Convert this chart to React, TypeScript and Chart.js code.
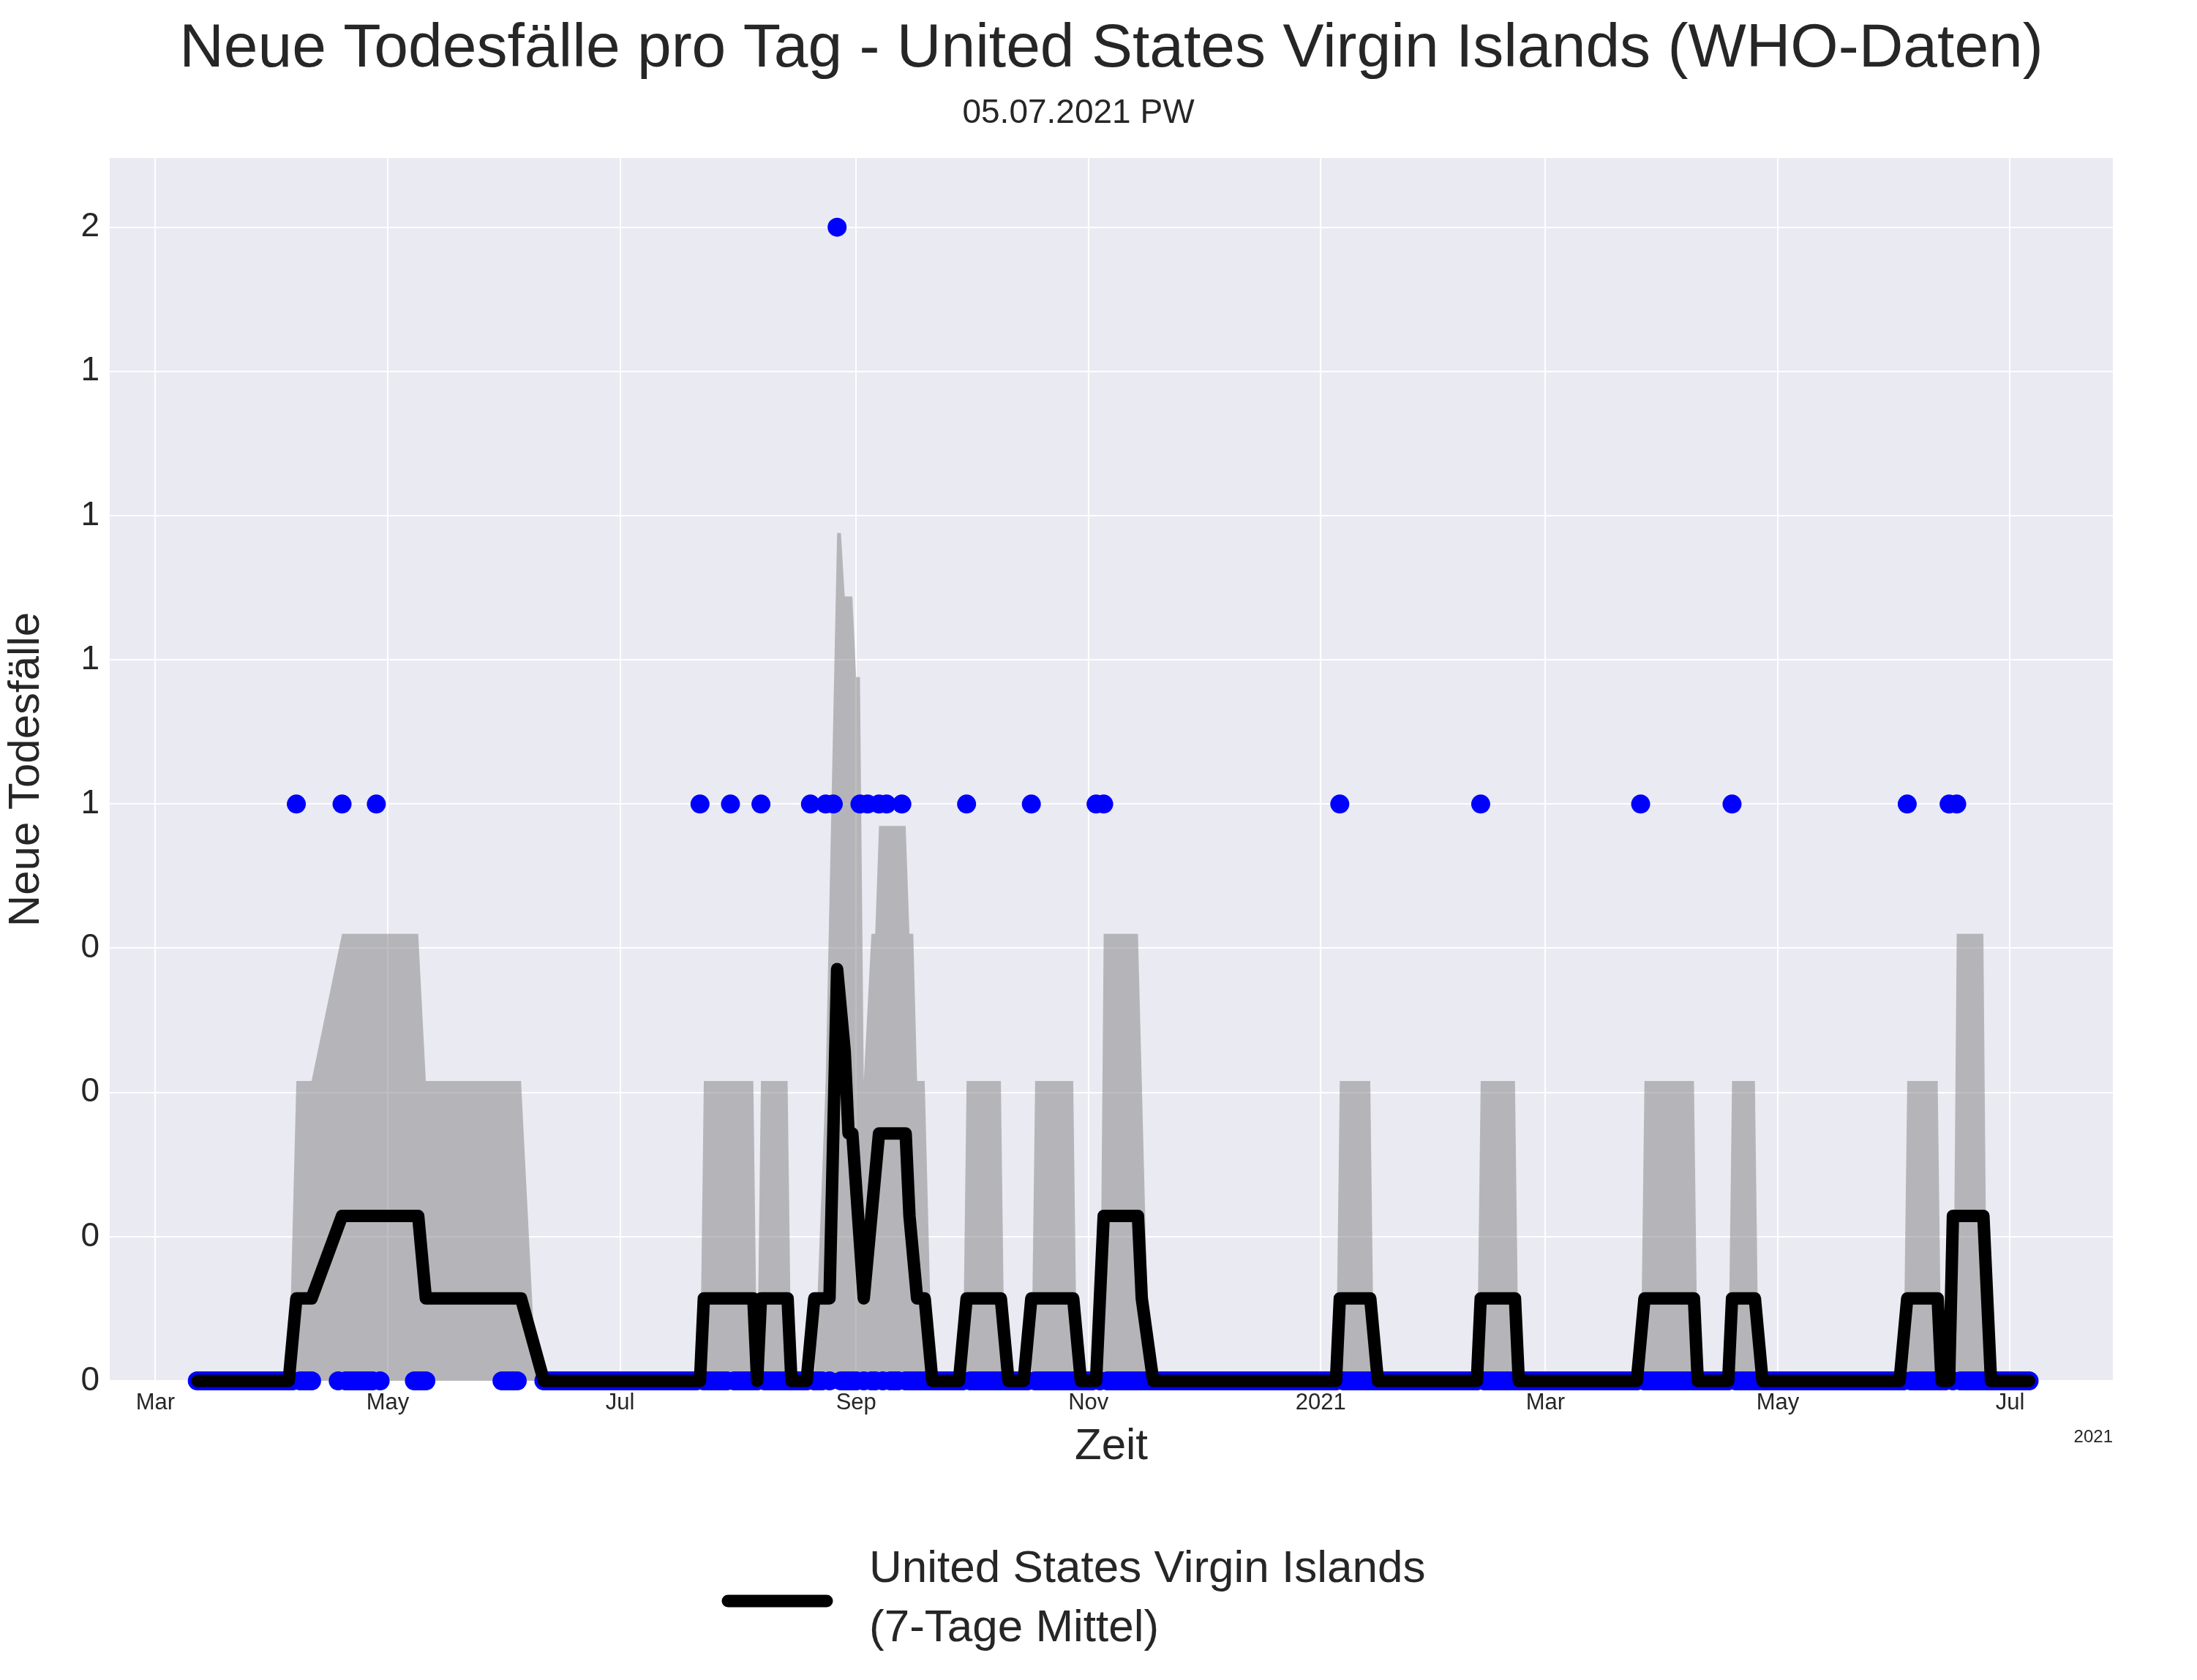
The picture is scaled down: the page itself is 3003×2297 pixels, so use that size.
import React, { useEffect, useRef } from "react";
import { Chart, registerables } from "chart.js";

Chart.register(...registerables);

// x values are days since 2020-03-01
const monthTickDays = [0, 61, 122, 184, 245, 306, 365, 426, 487];
const monthTickLabels = ["Mar", "May", "Jul", "Sep", "Nov", "2021", "Mar", "May", "Jul"];

// days with reported deaths
const deathDays = [37, 49, 58, 143, 151, 159, 172, 176, 178, 179, 185, 187, 190, 192, 196, 213, 230, 247, 249, 311, 348, 390, 414, 460, 471, 473];
const deathCounts = [1, 1, 1, 1, 1, 1, 1, 1, 1, 2, 1, 1, 1, 1, 1, 1, 1, 1, 1, 1, 1, 1, 1, 1, 1, 1];
// reporting period and days without a report
const firstDay = 11;
const lastDay = 492;
const missingRanges = [[42, 47], [60, 67], [72, 90], [96, 101]];

// 7-day mean breakpoints
const meanDays = [11, 35, 37, 41, 49, 69, 71, 96, 102, 143, 144, 157, 158, 159, 166, 167, 171, 173, 177, 179, 181, 182, 183, 186, 188, 190, 197, 198, 200, 202, 204, 211, 213, 222, 224, 228, 230, 241, 243, 247, 249, 258, 259, 262, 310, 311, 319, 321, 347, 348, 357, 358, 389, 391, 404, 405, 413, 414, 420, 422, 458, 460, 468, 469, 471, 472, 480, 482, 492];
const meanValues = [0, 0, 0.143, 0.143, 0.286, 0.286, 0.143, 0.143, 0, 0, 0.143, 0.143, 0, 0.143, 0.143, 0, 0, 0.143, 0.143, 0.714, 0.571, 0.429, 0.429, 0.143, 0.286, 0.429, 0.429, 0.286, 0.143, 0.143, 0, 0, 0.143, 0.143, 0, 0, 0.143, 0.143, 0, 0, 0.286, 0.286, 0.143, 0, 0, 0.143, 0.143, 0, 0, 0.143, 0.143, 0, 0, 0.143, 0.143, 0, 0, 0.143, 0.143, 0, 0, 0.143, 0.143, 0, 0, 0.286, 0.286, 0, 0];

// upper edge of the grey band (mean + std)
const bandDays = [11, 35, 37, 41, 49, 69, 71, 96, 100, 143, 144, 157, 158, 159, 166, 167, 173, 176, 179, 180, 181, 183, 184, 185, 186, 188, 189, 190, 197, 198, 199, 200, 202, 204, 212, 213, 222, 223, 230, 231, 241, 242, 248, 249, 258, 259, 261, 310, 311, 319, 320, 347, 348, 357, 358, 390, 391, 404, 405, 413, 414, 420, 421, 459, 460, 468, 469, 472, 473, 480, 481, 492];
const bandValues = [0, 0, 0.52, 0.52, 0.775, 0.775, 0.52, 0.52, 0, 0, 0.52, 0.52, 0, 0.52, 0.52, 0, 0, 0.52, 1.47, 1.47, 1.36, 1.36, 1.22, 1.22, 0.52, 0.775, 0.775, 0.962, 0.962, 0.775, 0.775, 0.52, 0.52, 0, 0, 0.52, 0.52, 0, 0, 0.52, 0.52, 0, 0, 0.775, 0.775, 0.52, 0, 0, 0.52, 0.52, 0, 0, 0.52, 0.52, 0, 0, 0.52, 0.52, 0, 0, 0.52, 0.52, 0, 0, 0.52, 0.52, 0, 0, 0.775, 0.775, 0, 0];

const yTicks = [0, 0.25, 0.5, 0.75, 1, 1.25, 1.5, 1.75, 2];

const FONT = "'Liberation Sans', Arial, sans-serif";
const PLOT = { left: 150, right: 2888, top: 216, bottom: 1888 };

const App: React.FC = () => {
  const chartRef = useRef<HTMLCanvasElement | null>(null);

  useEffect(() => {
    document.body.style.margin = "0";
    if (!chartRef.current) return;

    const daily: { x: number; y: number }[] = [];
    for (let d = firstDay; d <= lastDay; d++) {
      if (missingRanges.some(([a, b]) => d >= a && d <= b)) continue;
      const i = deathDays.indexOf(d);
      daily.push({ x: d, y: i >= 0 ? deathCounts[i] : 0 });
    }
    deathDays.forEach((d, i) => {
      if (!daily.some((p) => p.x === d)) daily.push({ x: d, y: deathCounts[i] });
    });

    const decor = {
      id: "decor",
      beforeDraw(chart: any) {
        const { ctx, chartArea } = chart;
        ctx.save();
        ctx.fillStyle = "#EAEAF2";
        ctx.fillRect(chartArea.left, chartArea.top, chartArea.right - chartArea.left, chartArea.bottom - chartArea.top);
        ctx.restore();
      },
      afterDraw(chart: any) {
        const { ctx } = chart;
        ctx.save();
        ctx.fillStyle = "#262626";
        ctx.textAlign = "center";
        ctx.textBaseline = "middle";
        ctx.font = `84px ${FONT}`;
        ctx.fillText("Neue Todesfälle pro Tag - United States Virgin Islands (WHO-Daten)", 1519, 68);
        ctx.font = `46px ${FONT}`;
        ctx.fillText("05.07.2021 PW", 1474, 155);
        ctx.font = `24px ${FONT}`;
        ctx.textAlign = "right";
        ctx.fillText("2021", 2888, 1965);
        // legend
        ctx.strokeStyle = "#000";
        ctx.lineWidth = 17;
        ctx.lineCap = "round";
        ctx.beginPath();
        ctx.moveTo(995, 2189);
        ctx.lineTo(1130, 2189);
        ctx.stroke();
        ctx.textAlign = "left";
        ctx.font = `62px ${FONT}`;
        ctx.fillText("United States Virgin Islands", 1188, 2146);
        ctx.fillText("(7-Tage Mittel)", 1188, 2227);
        ctx.restore();
      },
    };

    const chart = new Chart(chartRef.current, {
      type: "line",
      data: {
        datasets: [
          {
            label: "United States Virgin Islands (7-Tage Mittel)",
            data: meanDays.map((d, i) => ({ x: d, y: meanValues[i] })),
            borderColor: "#000",
            borderWidth: 17,
            borderJoinStyle: "round",
            borderCapStyle: "round",
            pointRadius: 0,
            fill: false,
            clip: false as any,
          },
          {
            type: "scatter",
            label: "Tageswerte",
            data: daily,
            backgroundColor: "#0000FF",
            borderWidth: 0,
            pointRadius: 13,
            clip: false as any,
          },
          {
            label: "Streuung",
            data: bandDays.map((d, i) => ({ x: d, y: bandValues[i] })),
            borderWidth: 0,
            pointRadius: 0,
            backgroundColor: "rgba(128,128,128,0.5)",
            fill: "origin",
          },
        ] as any,
      },
      options: {
        animation: false,
        responsive: true,
        maintainAspectRatio: false,
        devicePixelRatio: 1,
        layout: { padding: { top: PLOT.top, right: 3003 - PLOT.right, bottom: 2297 - PLOT.bottom - 130, left: 0 } },
        plugins: { legend: { display: false }, title: { display: false }, tooltip: { enabled: false } },
        scales: {
          x: {
            type: "linear",
            min: -12,
            max: 514,
            afterBuildTicks: (s: any) => {
              s.ticks = monthTickDays.map((v) => ({ value: v }));
            },
            afterFit: (s: any) => {
              s.height = 130;
            },
            ticks: {
              autoSkip: false,
              maxRotation: 0,
              color: "#262626",
              font: { family: FONT, size: 31 },
              padding: 12,
              callback: (v: any) => monthTickLabels[monthTickDays.indexOf(Number(v))] ?? "",
            },
            grid: { color: "#FFFFFF", lineWidth: 2, drawTicks: false },
            border: { display: false },
            title: { display: true, text: "Zeit", color: "#262626", font: { family: FONT, size: 60 }, padding: { top: 0 } },
          },
          y: {
            min: 0,
            max: 2.12,
            afterBuildTicks: (s: any) => {
              s.ticks = yTicks.map((v) => ({ value: v }));
            },
            afterFit: (s: any) => {
              s.width = PLOT.left;
            },
            ticks: {
              color: "#262626",
              font: { family: FONT, size: 46 },
              padding: 14,
              callback: (v: any) => String(Math.floor(Number(v))),
            },
            grid: { color: "#FFFFFF", lineWidth: 2, drawTicks: false },
            border: { display: false },
            title: { display: true, text: "Neue Todesfälle", color: "#262626", font: { family: FONT, size: 60 }, padding: 0 },
          },
        },
      },
      plugins: [decor],
    });

    return () => {
      chart.destroy();
    };
  }, []);

  return (
    <div style={{ width: "3003px", height: "2297px", position: "relative" }}>
      <canvas ref={chartRef} />
    </div>
  );
};

export default App;
